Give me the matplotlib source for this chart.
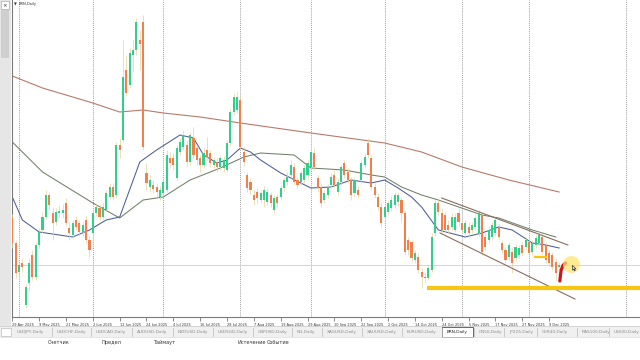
import numpy as np
import matplotlib
matplotlib.use('Agg')
import matplotlib.pyplot as plt
from matplotlib.patches import Rectangle
from matplotlib import font_manager

# ---------------- data (BRN, Daily) ----------------
opens = [66.2, 63.7, 60.8, 61.7, 57.5, 59.7, 62.5, 60.3, 63.5, 65.0,
         66.3, 68.5, 66.7, 65.8, 66.7, 66.7, 67.7, 65.2, 64.5, 66.0,
         65.7, 64.8, 66.0, 64.0, 64.7, 66.7, 67.2, 66.3, 67.0, 68.3,
         69.3, 68.5, 73.5, 74.0, 81.0, 79.5, 82.5, 83.0, 84.0, 85.8,
         70.7, 69.3, 69.5, 69.3, 68.3, 68.7, 69.0, 72.2, 72.2, 70.2,
         72.8, 73.3, 73.5, 71.8, 74.2, 73.2, 72.2, 71.5, 73.0, 72.7,
         71.5, 71.8, 71.3, 71.2, 71.0, 73.7, 76.8, 77.0, 78.0, 72.8,
         70.5, 69.8, 68.5, 68.8, 68.0, 68.0, 67.8, 68.5, 67.0, 68.3,
         68.3, 69.2, 69.8, 70.5, 71.3, 70.0, 69.8, 70.0, 70.5, 71.3,
         72.7, 70.2, 69.3, 68.0, 68.5, 69.5, 70.5, 68.8, 69.8, 71.7,
         70.8, 70.0, 68.7, 69.0, 70.0, 71.5, 73.7, 72.2, 69.3, 68.3,
         67.3, 66.3, 66.8, 67.2, 67.5, 67.8, 68.0, 66.7, 64.0, 63.8,
         62.0, 62.3, 60.8, 60.2, 60.2, 61.0, 64.7, 67.7, 66.7, 66.5,
         65.5, 65.3, 65.0, 66.7, 65.7, 64.7, 65.3, 65.0, 65.3, 64.7,
         66.5, 64.3, 64.0, 64.3, 64.7, 65.3, 63.7, 63.0, 62.3, 62.8,
         62.2, 62.5, 63.5, 63.3, 63.8, 62.8, 63.5, 63.7, 64.3, 63.5,
         62.7, 62.5, 61.8, 61.3]
closes = [63.7, 60.7, 61.5, 61.3, 59.3, 61.7, 60.3, 63.5, 64.8, 66.3,
          68.5, 67.5, 65.7, 66.8, 66.9, 67.0, 65.7, 64.7, 65.7, 65.3,
          64.8, 65.5, 64.0, 63.0, 66.7, 67.3, 66.3, 67.3, 68.7, 69.3,
          68.3, 73.5, 73.0, 80.3, 78.7, 82.7, 83.0, 85.8, 83.6, 73.3,
          69.7, 70.0, 69.1, 68.8, 69.0, 69.8, 72.5, 71.7, 71.5, 73.2,
          73.8, 74.5, 71.8, 74.5, 72.5, 72.0, 71.5, 72.7, 72.3, 71.7,
          72.0, 71.3, 72.2, 72.0, 73.7, 76.8, 78.3, 78.3, 73.3, 71.8,
          69.2, 69.0, 68.0, 68.2, 68.7, 69.0, 68.8, 67.7, 68.2, 67.7,
          69.2, 70.0, 70.3, 71.5, 69.8, 69.5, 70.7, 71.2, 71.7, 72.8,
          71.3, 69.2, 67.7, 68.7, 69.3, 70.3, 69.5, 69.8, 71.3, 70.5,
          70.0, 68.5, 70.0, 68.5, 71.7, 72.3, 72.5, 69.3, 68.5, 67.3,
          65.7, 67.3, 67.7, 68.0, 68.5, 68.5, 66.7, 62.8, 63.0, 62.2,
          62.7, 61.0, 60.3, 60.3, 61.2, 64.3, 67.7, 66.8, 65.0, 65.0,
          65.0, 66.3, 66.3, 65.8, 65.0, 65.7, 64.7, 65.5, 66.2, 66.7,
          62.8, 63.3, 65.0, 65.5, 66.0, 64.3, 63.0, 62.0, 63.5, 61.7,
          63.3, 63.2, 62.7, 64.0, 62.7, 63.7, 64.2, 64.5, 62.8, 62.0,
          61.7, 61.3, 60.7, 61.5]
highs = [66.6, 64.0, 61.8, 62.2, 59.6, 62.2, 63.0, 63.8, 65.2, 66.8,
         69.0, 68.8, 67.2, 67.2, 67.5, 67.6, 68.2, 65.8, 66.0, 66.4,
         66.0, 65.8, 66.4, 64.4, 67.0, 67.7, 67.6, 67.7, 69.0, 69.7,
         69.7, 73.8, 74.2, 84.0, 82.5, 83.2, 84.0, 86.2, 85.0, 86.5,
         71.7, 70.5, 70.0, 69.7, 69.4, 70.2, 73.0, 72.8, 72.7, 73.5,
         74.2, 75.0, 74.0, 74.8, 75.3, 73.5, 72.5, 73.2, 74.3, 73.0,
         72.3, 72.2, 72.5, 72.4, 74.0, 77.2, 78.7, 78.8, 78.5, 73.3,
         70.8, 70.2, 69.0, 69.2, 69.0, 69.4, 69.2, 68.8, 68.5, 68.6,
         69.5, 70.3, 70.8, 72.0, 71.7, 70.3, 71.0, 71.5, 72.0, 73.5,
         73.2, 70.5, 69.7, 69.0, 69.6, 70.7, 71.0, 70.2, 71.5, 72.0,
         71.2, 70.3, 70.3, 69.4, 72.0, 72.7, 74.2, 72.5, 69.7, 68.7,
         67.7, 67.7, 68.0, 68.4, 68.8, 68.8, 68.3, 67.0, 64.3, 64.0,
         63.0, 62.7, 61.2, 60.8, 61.5, 64.7, 68.0, 68.2, 67.2, 66.8,
         66.0, 66.7, 66.7, 67.2, 66.0, 66.0, 65.8, 65.8, 66.5, 67.0,
         66.8, 64.7, 65.4, 65.8, 66.3, 65.6, 64.0, 63.3, 63.8, 63.2,
         63.6, 63.5, 63.8, 64.3, 64.1, 64.0, 64.5, 65.0, 64.6, 63.8,
         63.0, 62.8, 62.2, 61.8]
lows = [63.2, 60.2, 60.0, 60.8, 57.2, 59.0, 60.0, 60.0, 63.2, 64.7,
        66.1, 67.0, 64.0, 65.5, 66.3, 66.2, 65.4, 64.0, 64.2, 65.0,
        64.4, 64.4, 63.7, 62.3, 64.4, 66.4, 66.0, 66.0, 66.8, 68.1,
        68.0, 68.2, 72.2, 73.8, 78.4, 79.2, 80.8, 82.5, 81.0, 73.0,
        69.0, 68.8, 68.7, 68.3, 68.0, 68.4, 68.8, 71.2, 71.0, 70.0,
        72.5, 73.0, 71.4, 71.5, 72.2, 71.5, 70.8, 71.2, 72.0, 71.3,
        71.2, 70.8, 71.0, 70.8, 70.8, 73.4, 76.5, 76.7, 73.0, 71.4,
        68.8, 68.6, 67.5, 67.7, 67.7, 67.3, 67.5, 67.3, 66.7, 67.3,
        68.0, 68.9, 69.5, 70.2, 69.5, 69.1, 69.5, 69.7, 70.2, 71.0,
        71.0, 68.8, 67.3, 67.7, 68.2, 69.2, 69.2, 68.5, 69.5, 70.2,
        69.7, 68.0, 68.3, 68.2, 69.7, 71.2, 72.2, 69.0, 68.2, 67.0,
        65.3, 66.0, 66.5, 66.9, 67.2, 67.4, 65.8, 62.5, 62.5, 61.8,
        61.7, 60.7, 59.2, 59.8, 60.0, 60.8, 64.4, 66.5, 64.7, 64.7,
        64.7, 65.0, 64.8, 65.4, 64.7, 64.4, 64.4, 64.7, 65.0, 64.4,
        62.5, 63.0, 63.7, 64.0, 64.4, 64.0, 62.7, 61.7, 62.0, 60.7,
        61.9, 62.2, 62.4, 63.0, 62.4, 62.5, 63.2, 63.4, 62.5, 61.7,
        61.4, 61.0, 60.0, 61.0]

# moving averages (candle index, price)
ma_slow_idx = [0, 9, 24, 32, 39, 45, 56, 68, 89, 111, 122, 134, 148, 163]
ma_slow_val = [80.4, 79.2, 77.7, 76.8, 77.0, 76.7, 76.3, 75.7, 74.7, 73.7, 72.8, 71.3, 70.0, 68.8]

ma_mid_idx = [0, 9, 24, 32, 39, 45, 53, 62, 69, 74, 84, 89, 99, 107, 111, 116, 122, 127, 140, 145, 155, 162]
ma_mid_val = [73.8, 70.8, 67.7, 66.2, 68.0, 68.3, 70.0, 71.2, 72.3, 72.7, 72.5, 71.2, 71.0, 70.5, 70.3,
              69.3, 68.5, 68.0, 66.5, 66.2, 65.0, 64.3]

ma_fast_idx = [0, 3, 8, 18, 23, 28, 32, 38, 43, 50, 54, 57, 61, 64, 68, 71, 74, 80, 89, 95, 101, 107,
               111, 115, 119, 122, 127, 135, 140, 145, 149, 155, 159, 163]
ma_fast_val = [68.3, 66.0, 64.8, 64.3, 65.0, 66.0, 66.3, 71.8, 73.0, 74.5, 74.2, 72.5, 71.7, 72.0, 73.2,
               72.8, 72.0, 70.7, 69.2, 69.3, 70.0, 69.7, 70.0, 69.2, 68.3, 67.3, 65.0, 64.3, 64.7, 65.3,
               65.0, 63.7, 63.5, 63.2]

# channel trend lines (index, price)
chan_up_idx = [128, 165.6]
chan_up_val = [68.2, 63.5]
chan_lo_idx = [127.5, 167.7]
chan_lo_val = [64.7, 58.1]

support_level = 59.2
support_from = 123.6
mini_level = 62.3
mini_from, mini_to = 155.5, 159.5

hook_idx = [163.2, 163.4, 163.6, 164.2, 164.9]
hook_val = [59.9, 60.5, 61.0, 61.5, 61.7]
cursor_idx, cursor_val = 166.6, 61.6

separator_idx = [2, 24, 45, 68, 89, 111, 134, 154, 183]
date_ticks = [0, 8, 16, 24, 32, 40, 48, 56, 64, 72, 80, 88, 96, 104, 112, 120, 128, 136, 144, 152, 160]
date_labels = ['29 Apr 2025', '9 May 2025', '21 May 2025', '2 Jun 2025', '12 Jun 2025', '24 Jun 2025',
               '4 Jul 2025', '16 Jul 2025', '28 Jul 2025', '7 Aug 2025', '19 Aug 2025', '29 Aug 2025',
               '10 Sep 2025', '22 Sep 2025', '2 Oct 2025', '14 Oct 2025', '24 Oct 2025', '5 Nov 2025',
               '17 Nov 2025', '27 Nov 2025', '9 Dec 2025']

tab_names = ['USDJPY,Daily', 'USDCHF,Daily', 'USDCAD,Daily', 'AUDUSD,Daily', 'NZDUSD,Daily',
             'USDSGD,Daily', 'GBPUSD,Daily', 'NG,Daily', 'XAGUSD,Daily', 'XAUUSD,Daily',
             'EURUSD,Daily', 'BRN,Daily', 'CN50,Daily', 'JP225,Daily', 'GER40,Daily',
             'NAS100,Daily', 'US500,Daily']
active_tab = 'BRN,Daily'
panel_labels = ['Счетчик', 'Предел', 'Таймаут', 'Истечение', 'Событие']

# layout (pixels)
tab_x = [17, 57, 96, 137, 178, 218, 258, 297, 327, 367, 407, 447, 479, 509, 542, 582, 614]
panel_x = [48, 102, 153, 238, 267]

names = {f.name for f in font_manager.fontManager.ttflist}
NARROW = 'Liberation Sans Narrow' if 'Liberation Sans Narrow' in names else 'DejaVu Sans'
narrow_scale = 1.0 if NARROW != 'DejaVu Sans' else 0.78

# ---------------- figure ----------------
W, H = 640, 360
fig = plt.figure(figsize=(6.4, 3.6), dpi=100)
fig.patch.set_facecolor('white')

ax = fig.add_axes([12 / W, 43 / H, 628 / W, 317 / H])
ax.set_facecolor('white')
ax.set_xlim(-0.09, 187.1)
ax.set_ylim(56.3, 88.0)

o = np.array(opens); c = np.array(closes); h = np.array(highs); l = np.array(lows)
idx = np.arange(len(c))
up = c >= o
GREEN, ORANGE = '#30cf8a', '#f3804c'
body_col = np.where(up, GREEN, ORANGE)

for s in separator_idx:
    ax.axvline(s, color='#7a7a7a', lw=0.6, ls=(0, (1, 1.5)), zorder=1)
ax.axhline(c[-1], color='#cfcfcf', lw=0.6, zorder=1)

ax.plot(ma_slow_idx, ma_slow_val, color='#b87a6c', lw=0.8, zorder=2)
ax.plot(ma_mid_idx, ma_mid_val, color='#6f806a', lw=0.75, zorder=2)
ax.plot(ma_fast_idx, ma_fast_val, color='#4d5c9c', lw=0.75, zorder=2)

ax.vlines(idx, l, h, colors='#e2d59c', lw=0.5, zorder=3)
bh = np.maximum(np.abs(c - o), 0.1)
ax.bar(idx, bh, bottom=np.minimum(o, c), width=0.62, color=body_col, linewidth=0, zorder=4)

ax.plot(chan_up_idx, chan_up_val, color='#8a6c60', lw=0.8, zorder=5)
ax.plot(chan_lo_idx, chan_lo_val, color='#8a6c60', lw=0.8, zorder=5)

ax.plot([support_from, 187.1], [support_level, support_level], color='#f7c614', lw=3.0,
        solid_capstyle='butt', zorder=6)
ax.plot([mini_from, mini_to], [mini_level, mini_level], color='#f7c614', lw=1.6,
        solid_capstyle='butt', zorder=6)
ax.plot(hook_idx, hook_val, color='#d01616', lw=2.3, solid_capstyle='round', zorder=7)
ax.scatter([cursor_idx], [cursor_val], s=150, color='#ffe36a', alpha=0.7, linewidths=0, zorder=7)
arrow = [(0, 0), (0, -10), (2.4, -7.6), (4.2, -11.5), (5.8, -10.8), (4.1, -7.1), (7.2, -7.1), (0, 0)]
ax.scatter([cursor_idx + 0.2], [cursor_val - 0.1], marker=arrow, s=60, facecolor='white',
           edgecolor='#333333', linewidths=0.5, zorder=8)

for sp in ['top', 'right']:
    ax.spines[sp].set_visible(False)
for sp in ['left', 'bottom']:
    ax.spines[sp].set_color('#7a7a7a')
    ax.spines[sp].set_linewidth(0.8)
ax.set_yticks([])
ax.set_xticks(date_ticks)
ax.set_xticklabels(date_labels, ha='left', family=[NARROW, 'DejaVu Sans'])
ax.tick_params(axis='x', length=3, width=0.5, color='#606060', labelsize=3.3 * narrow_scale,
               labelcolor='#333333', pad=1.0)

# ---------------- window chrome ----------------
ui = fig.add_axes([0, 0, 1, 1], zorder=10)
ui.set_xlim(0, W); ui.set_ylim(H, 0); ui.axis('off'); ui.patch.set_alpha(0)

ui.add_patch(Rectangle((0, 0), 11, 326, color='#e6e6e6', lw=0))
ui.add_patch(Rectangle((1, 10), 8, 48, color='#cfcfcf', lw=0))
ui.add_patch(Rectangle((1, 1), 8, 8, facecolor='white', edgecolor='#9a9a9a', lw=0.4))
ui.text(5, 5.2, '×', fontsize=4, ha='center', va='center', color='#333333')
ui.text(14, 4.5, '▼', fontsize=2.6, ha='left', va='center', color='#333333')
ui.text(19, 4.5, 'BRN,Daily', fontsize=3.4 * narrow_scale, ha='left', va='center', color='#333333',
        family=[NARROW, 'DejaVu Sans'])

ui.add_patch(Rectangle((0, 326), W, 11, color='#f0f0f0', lw=0))
ui.plot([0, W], [326, 326], color='#c8c8c8', lw=0.5)
ui.plot([0, W], [337, 337], color='#dcdcdc', lw=0.5)
ui.add_patch(Rectangle((0.5, 327.5), 10, 8, facecolor='white', edgecolor='#b0b0b0', lw=0.4))
for k, (name, x) in enumerate(zip(tab_names, tab_x)):
    col = '#222222' if name == active_tab else '#8c8c8c'
    if name == active_tab:
        ui.add_patch(Rectangle((x - 5, 326.5), 31, 10, facecolor='white', edgecolor='#505050', lw=0.6))
    ui.text(x, 332, name, fontsize=3.9 * narrow_scale, ha='left', va='center', color=col,
            family=[NARROW, 'DejaVu Sans'])
    if k > 0:
        ui.plot([x - 5, x - 5], [328, 336], color='#b8b8b8', lw=0.5)

for name, x in zip(panel_labels, panel_x):
    ui.text(x, 342.5, name, fontsize=3.6, ha='left', va='center', color='#333333')

fig.savefig('out.png', dpi=100, facecolor='white')
